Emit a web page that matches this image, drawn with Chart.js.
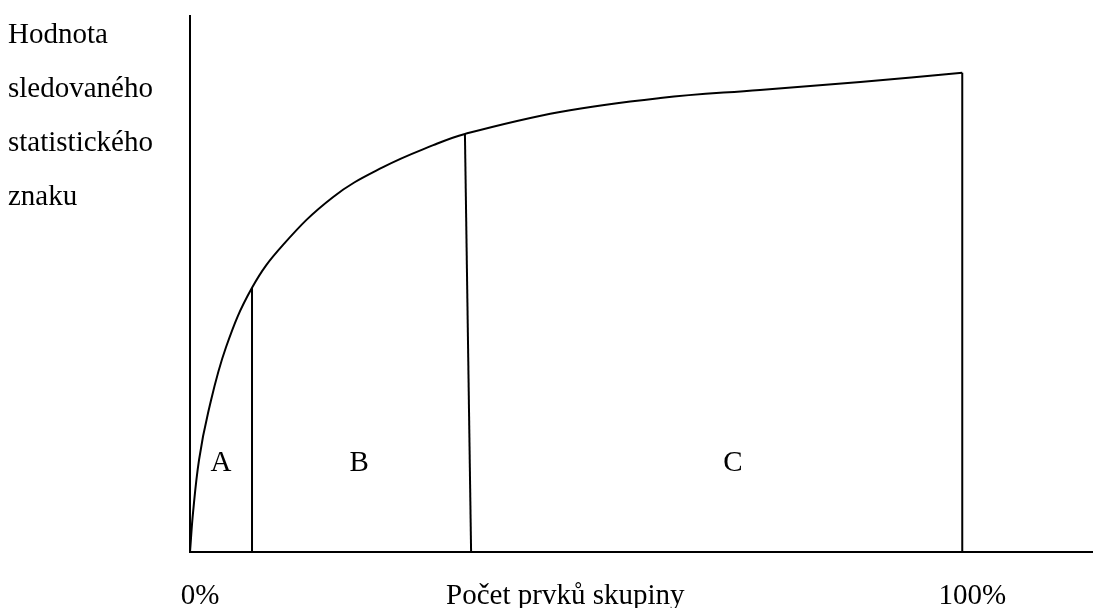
<!DOCTYPE html>
<html>
<head>
<meta charset="utf-8">
<script src="https://cdn.jsdelivr.net/npm/chart.js@4"></script>
<style>
    html, body { margin: 0; padding: 0; background: #fff; }
    #wrap { width: 1094px; height: 608px; }
</style>
</head>
<body>
<div id="wrap"><canvas id="abcChart"></canvas></div>
<script>
// ABC curve (x in %, y in % of axis height)
const curveX = [0, 0.39, 1.17, 2.33, 4.66, 8.03, 12.05, 18.5, 25.0, 31.5, 35.6, 47.9, 60.9, 73.8, 86.8, 100];
const curveY = [0, 7.3, 17.2, 25.9, 38.2, 49.3, 57.3, 66.2, 71.8, 75.9, 78.0, 82.1, 84.7, 86.2, 87.7, 89.4];

// zone dividers (top point on the curve, foot on the x axis)
const dividerTopX = [8.03, 35.6, 100];
const dividerTopY = [49.3, 78.0, 89.4];
const dividerFootX = [8.03, 36.4, 100];

// zone letters
const zoneLabels = ["A", "B", "C"];
const zoneX = [4.0, 21.9, 70.3];
const zoneY = 16.6;

// x axis labels
const xTickValues = [0, 47.3, 100];
const xTickLabels = ["0%", "Počet prvků skupiny", "100%"];

// y axis title, one entry per line
const yTitleLines = ["Hodnota", "sledovaného", "statistického", "znaku"];

const FONT = "'Liberation Serif', 'Times New Roman', serif";

// Build datasets
const curveData = curveX.map((x, i) => ({ x: x, y: curveY[i] }));

const lineStyle = {
    borderColor: "#000",
    borderWidth: 2,
    pointRadius: 0,
    fill: false,
    showLine: true
};

const datasets = [{
    ...lineStyle,
    data: curveData,
    tension: 0.4
}];

dividerTopX.forEach((x, i) => {
    datasets.push({
        ...lineStyle,
        data: [{ x: x, y: dividerTopY[i] }, { x: dividerFootX[i], y: 0 }],
        tension: 0
    });
});

// Draw the y title and the zone letters
const textPlugin = {
    id: "abcText",
    afterDraw(chart) {
        const ctx = chart.ctx;
        const xs = chart.scales.x;
        const ys = chart.scales.y;
        ctx.save();
        ctx.fillStyle = "#000";
        ctx.font = "29px " + FONT;

        // y title lines
        ctx.textAlign = "left";
        ctx.textBaseline = "alphabetic";
        yTitleLines.forEach((line, i) => {
            ctx.fillText(line, 8, 43 + i * 54);
        });

        // zone letters
        ctx.textAlign = "center";
        ctx.textBaseline = "middle";
        zoneLabels.forEach((lbl, i) => {
            ctx.fillText(lbl, xs.getPixelForValue(zoneX[i]), ys.getPixelForValue(zoneY));
        });
        ctx.restore();
    }
};

new Chart(document.getElementById("abcChart").getContext("2d"), {
    type: "scatter",
    data: { datasets: datasets },
    options: {
        responsive: true,
        maintainAspectRatio: false,
        animation: false,
        layout: { padding: { left: 0, right: 2, top: 16, bottom: 0 } },
        plugins: {
            legend: { display: false },
            tooltip: { enabled: false }
        },
        scales: {
            x: {
                type: "linear",
                min: 0,
                max: 116.8,
                grid: { display: false },
                border: { display: true, color: "#000", width: 2 },
                afterBuildTicks: (scale) => {
                    scale.ticks = xTickValues.map(v => ({ value: v }));
                },
                afterFit: (scale) => { scale.height = 56; },
                ticks: {
                    autoSkip: false,
                    maxRotation: 0,
                    padding: 19,
                    labelOffset: 10,
                    color: "#000",
                    font: { family: FONT, size: 29 },
                    callback: (value) => {
                        const idx = xTickValues.indexOf(value);
                        return idx >= 0 ? xTickLabels[idx] : "";
                    }
                }
            },
            y: {
                type: "linear",
                min: 0,
                max: 100,
                grid: { display: false },
                border: { display: true, color: "#000", width: 2 },
                ticks: { display: false },
                afterFit: (scale) => { scale.width = 190; }
            }
        }
    },
    plugins: [textPlugin]
});
</script>
</body>
</html>
